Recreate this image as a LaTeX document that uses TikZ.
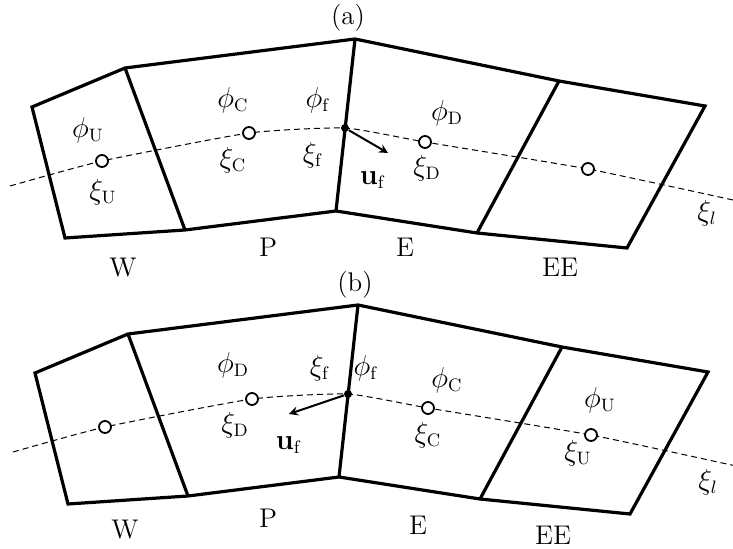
\documentclass[tikz,border=0pt]{standalone}
\usetikzlibrary{arrows.meta}
\begin{document}
\begin{tikzpicture}[
    x=0.5pt, y=-0.5pt,
    every node/.style={font=\fontsize{13.5}{16}\selectfont},
    edge/.style={line width=1.6pt, line join=miter},
    xi/.style={dashed, dash pattern=on 3pt off 2pt, line width=0.5pt},
    centroid/.style={circle, draw, fill=white, line width=0.9pt, inner sep=0pt, minimum size=6pt},
    face/.style={circle, fill=black, inner sep=0pt, minimum size=4pt},
    vel/.style={->, >=stealth, line width=1pt}
  ]
  \useasboundingbox (0,0) rectangle (733,549);

  \foreach \p/\dx/\dy in {a/0/0, b/3/266} {
    \begin{scope}[shift={(\dx,\dy)}]
      % --- Cell vertices ---
      \coordinate (\p-w1) at (32,107);
      \coordinate (\p-w2) at (65,238);
      \coordinate (\p-a1) at (125,68);
      \coordinate (\p-a2) at (185,230);
      \coordinate (\p-b1) at (355,39);
      \coordinate (\p-b2) at (336,211);
      \coordinate (\p-c1) at (559,81);
      \coordinate (\p-c2) at (477,233);
      \coordinate (\p-d1) at (705,106);
      \coordinate (\p-d2) at (627,248);

      % --- Cells ---
      \draw[edge] (\p-w1) -- (\p-a1) -- (\p-b1) -- (\p-c1) -- (\p-d1)
        -- (\p-d2) -- (\p-c2) -- (\p-b2) -- (\p-a2) -- (\p-w2) -- cycle;
      \draw[edge] (\p-a1) -- (\p-a2);
      \draw[edge] (\p-b1) -- (\p-b2);
      \draw[edge] (\p-c1) -- (\p-c2);

      % --- Coordinate line ---
      \coordinate (\p-s) at (10,186);
      \coordinate (\p-W) at (102,161);
      \coordinate (\p-P) at (249,133);
      \coordinate (\p-F) at (345,128);
      \coordinate (\p-E) at (425,142);
      \coordinate (\p-EE) at (588,169);
      \coordinate (\p-e) at (733,200);
      \draw[xi] plot[smooth, tension=0.3] coordinates {(\p-s) (\p-W) (\p-P) (\p-F) (\p-E) (\p-EE) (\p-e)};

      \node[centroid] at (\p-W) {};
      \node[centroid] at (\p-P) {};
      \node[centroid] at (\p-E) {};
      \node[centroid] at (\p-EE) {};
      \node[face] (\p-f) at (\p-F) {};
    \end{scope}
  }

  % --- Panel (a) ---
  \node (a-title) at (348,18) {(a)};
  \node (a-phiU) at (88,130) {$\phi_{\mathrm{U}}$};
  \node (a-xiU) at (103,192) {$\xi_{\mathrm{U}}$};
  \node (a-phiC) at (233,100) {$\phi_{\mathrm{C}}$};
  \node (a-xiC) at (233,160) {$\xi_{\mathrm{C}}$};
  \node (a-phif) at (318,100) {$\phi_{\mathrm{f}}$};
  \node (a-xif) at (313,155) {$\xi_{\mathrm{f}}$};
  \node (a-phiD) at (447,113) {$\phi_{\mathrm{D}}$};
  \node (a-xiD) at (427,168) {$\xi_{\mathrm{D}}$};
  \node (a-uflab) at (373,180) {$\mathbf{u}_{\mathrm{f}}$};
  \node (a-xil) at (707,213) {$\xi_l$};
  \node (a-Wlab) at (123,268) {W};
  \node (a-Plab) at (268,247) {P};
  \node (a-Elab) at (405,247) {E};
  \node (a-EElab) at (560,267) {EE};
  \coordinate (a-uf) at (388,153);
  \draw[vel] (a-f) -- (a-uf);

  % --- Panel (b) ---
  \node (b-title) at (355,285) {(b)};
  \node (b-phiD) at (233,365) {$\phi_{\mathrm{D}}$};
  \node (b-xiD) at (235,425) {$\xi_{\mathrm{D}}$};
  \node (b-xif) at (320,368) {$\xi_{\mathrm{f}}$};
  \node (b-phif) at (366,368) {$\phi_{\mathrm{f}}$};
  \node (b-phiC) at (447,380) {$\phi_{\mathrm{C}}$};
  \node (b-xiC) at (428,435) {$\xi_{\mathrm{C}}$};
  \node (b-phiU) at (600,400) {$\phi_{\mathrm{U}}$};
  \node (b-xiU) at (578,453) {$\xi_{\mathrm{U}}$};
  \node (b-uflab) at (289,445) {$\mathbf{u}_{\mathrm{f}}$};
  \node (b-xil) at (708,482) {$\xi_l$};
  \node (b-Wlab) at (125,530) {W};
  \node (b-Plab) at (268,518) {P};
  \node (b-Elab) at (418,525) {E};
  \node (b-EElab) at (553,535) {EE};
  \coordinate (b-uf) at (289,414);
  \draw[vel] (b-f) -- (b-uf);
\end{tikzpicture}
\end{document}
